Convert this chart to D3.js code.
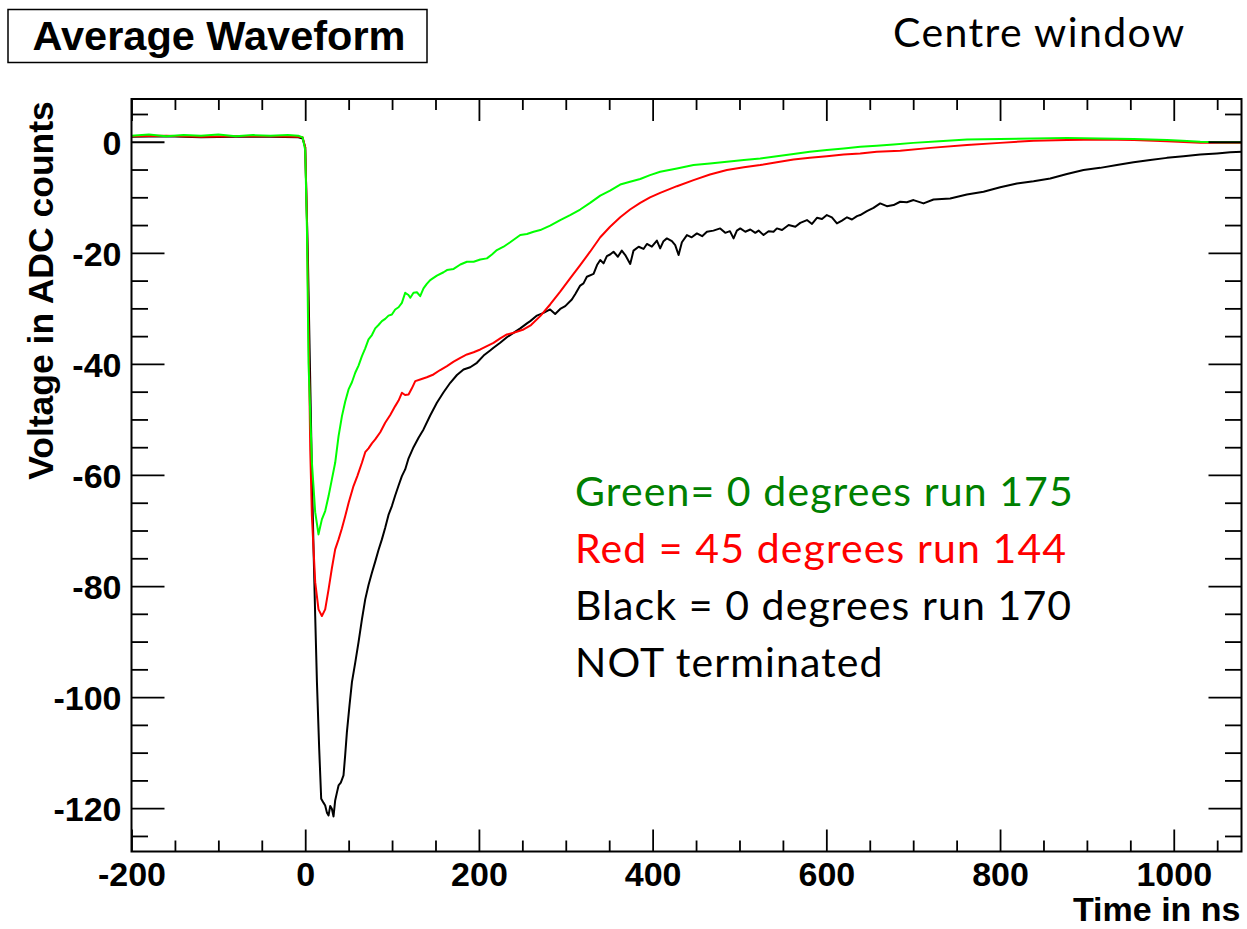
<!DOCTYPE html>
<html>
<head>
<meta charset="utf-8">
<script src="https://cdn.jsdelivr.net/npm/d3@7"></script>
<style>
  html, body { margin: 0; padding: 0; background: #fff; }
  svg { display: block; }
</style>
</head>
<body>
<svg id="chart" width="1247" height="929"></svg>
<script>
// ---------------- DATA ----------------
const xTicks = [-200, 0, 200, 400, 600, 800, 1000];
const yTicks = [0, -20, -40, -60, -80, -100, -120];
const xDomain = [-200, 1078];
const yDomain = [-127.8, 7.7];

const titleText = "Average Waveform";
const subtitleText = "Centre window";
const xLabel = "Time in ns";
const yLabel = "Voltage in ADC counts";
const legendLines = ["Green= 0 degrees run 175", "Red = 45 degrees run 144", "Black = 0 degrees run 170", "NOT terminated"];

const greenData = [[-200,1.1],[-180,1.3],[-160,1.0],[-140,1.2],[-120,1.1],[-100,1.3],[-80,1.0],[-60,1.2],[-40,1.1],[-20,1.2],[-8,1.1],[-3,0.8],[0,-1.5],[2,-15.9],[3.8,-39.8],[7.7,-57.7],[11.5,-66.7],[15.3,-70.7],[17,-69.5],[19.2,-68],[23,-66.5],[26.9,-63.8],[30.7,-60.8],[34.5,-57.8],[38.4,-53],[42.3,-49.4],[46,-46.8],[49.9,-44.6],[53.8,-43.3],[57.6,-41.6],[61.4,-40.3],[65.3,-38.6],[69.1,-37.2],[72.9,-35.6],[76.8,-34.8],[80.6,-33.6],[84.4,-33.0],[88.3,-32.3],[92.1,-31.9],[95.9,-31.3],[99.8,-31.1],[103.6,-30.2],[107.5,-29.8],[111.3,-29],[115.1,-27.2],[118.9,-27.6],[121,-28.1],[124.7,-27.2],[128.6,-27.1],[132.4,-27.8],[136.2,-26.4],[140,-25.6],[143.9,-24.9],[151.6,-24.1],[159.3,-23.5],[163.2,-23.1],[170.9,-22.9],[178.6,-22.1],[186.2,-21.6],[193.9,-21.6],[201.6,-21.2],[209.2,-21],[215,-20.3],[220.7,-19.5],[228.4,-18.9],[236,-18.1],[247.6,-16.8],[255.3,-16.6],[263,-16.2],[270.6,-15.9],[282,-15.1],[293.6,-14.1],[305,-13.2],[316.6,-12.2],[328,-11.0],[339.7,-9.7],[351,-8.8],[362.7,-7.7],[374,-7.2],[385.7,-6.7],[397,-6.0],[408.7,-5.4],[428,-4.8],[447.1,-4.2],[466,-3.9],[485.5,-3.6],[505,-3.3],[523.9,-3.0],[543,-2.6],[562.2,-2.2],[581,-1.8],[600.6,-1.5],[620,-1.2],[639,-0.9],[658,-0.7],[677.4,-0.5],[700,-0.2],[730,0.1],[761.9,0.4],[800,0.5],[838.7,0.6],[877,0.7],[915.4,0.6],[954,0.5],[992.2,0.3],[1010,0.2],[1030.5,0],[1055,-0.1],[1080,-0.1]];

const redData = [[-200,1.0],[-160,1.1],[-120,0.9],[-80,1.0],[-40,1.0],[-8,0.9],[-3,0.8],[0,-1.0],[2,-14],[4,-35],[5.8,-55.4],[7.7,-67.4],[11.5,-79.3],[15.3,-84.2],[19.2,-85.4],[23,-84.2],[26.9,-80.6],[30.7,-76.8],[34.5,-73.4],[38.4,-71.6],[42.3,-69.6],[46.1,-67.4],[50,-65.0],[55.6,-62],[60,-60.2],[65.3,-57.8],[69.1,-55.9],[72.9,-55.2],[76.8,-54.3],[80.6,-53.6],[86.4,-52.3],[92.1,-50.6],[97.9,-49.2],[103.6,-47.6],[107.5,-46.6],[111.3,-45.2],[115,-45.6],[119,-45.5],[122.8,-44.4],[126.7,-43.1],[132.4,-42.8],[140,-42.4],[147.7,-41.9],[155.4,-41.1],[163.2,-40.4],[170.9,-39.6],[178.6,-38.9],[186.2,-38.3],[193.9,-37.9],[201.6,-37.4],[209.2,-36.8],[216.8,-36.2],[224.5,-35.4],[232.2,-34.7],[240,-34.4],[251.4,-33.8],[260,-33.0],[270.6,-31.4],[282,-29.3],[293.6,-27.0],[305,-24.6],[316.6,-22.2],[328,-19.8],[339.7,-17.2],[351,-15.3],[362.7,-13.6],[374,-12.2],[385.7,-11.0],[397,-10.0],[408.7,-9.2],[428,-8.0],[447.1,-6.9],[466,-5.9],[485.5,-5.1],[505,-4.6],[523.9,-4.2],[543,-3.7],[562.2,-3.2],[581,-2.9],[600.6,-2.6],[620,-2.3],[639,-2.1],[658,-1.8],[685,-1.6],[720,-1.1],[761.9,-0.6],[800,-0.2],[838.6,0.2],[877,0.3],[915.4,0.4],[954,0.3],[992.2,0.1],[1030.5,-0.2],[1080,-0.2]];

const blackData = [[-200,0.9],[-160,1.0],[-120,0.8],[-80,0.9],[-40,0.9],[-8,0.8],[-3,0.6],[0,-1.0],[3,-20],[6,-45],[8,-62],[9.6,-73.4],[11.5,-85.4],[13.5,-97.3],[16.1,-109.3],[18.4,-118.3],[21,-119.0],[23,-119.5],[25,-120.8],[26.9,-121.3],[28.8,-119.6],[30.7,-120.1],[32.6,-121.5],[34.5,-118.6],[36.5,-117.2],[38.4,-115.9],[41,-115.4],[44.1,-114.1],[46,-110.5],[48,-106.3],[51,-101.5],[53.8,-97.3],[57.6,-93.8],[61.4,-90.1],[65.3,-86.0],[69.1,-82.4],[72.9,-79.8],[76.8,-77.6],[80.6,-75.6],[84.4,-73.5],[88.3,-71.6],[92.1,-69.5],[95.9,-67.2],[99.8,-65.6],[103.6,-63.7],[107.5,-61.9],[111.3,-60.2],[115.1,-59.0],[119,-57.0],[124.7,-55.0],[130.5,-53.3],[136.2,-51.8],[143.9,-49.3],[151.6,-47],[159.3,-45.1],[167,-43.4],[174.7,-42.0],[182.3,-41],[190,-40.6],[197.7,-39.8],[205.4,-38.5],[212.9,-37.6],[216.8,-37.1],[224.5,-36.2],[232.2,-35.2],[239.8,-34.4],[247.6,-33.6],[255.3,-32.7],[259.1,-32.3],[266.8,-31.3],[274.4,-30.8],[282,-30.2],[287.8,-31.0],[293.6,-30.1],[299.4,-29.6],[307,-28.4],[311,-27.4],[316.6,-25.9],[320.4,-25.5],[324.3,-24.3],[332,-23.8],[336,-22.2],[339.7,-21.3],[343.5,-21.9],[347.3,-20.6],[351,-20.3],[355,-19.8],[360,-20.7],[364.5,-19.6],[368.5,-20.4],[374.2,-22.0],[378,-19.6],[383.9,-18.9],[389.5,-19.3],[393.4,-18.4],[399.1,-18.9],[404.9,-17.8],[408.7,-19.2],[412.5,-17.9],[416.4,-17.4],[422.2,-17.9],[426,-18.6],[429.9,-20.4],[433.7,-18.1],[439.5,-16.8],[445,-17.2],[451,-16.5],[457,-17.0],[462.5,-16.2],[470,-16.0],[477.8,-15.6],[483.6,-16.4],[489,-16.1],[493.2,-17.4],[497,-16.0],[500.9,-15.6],[506.7,-16.2],[512.5,-15.8],[518.2,-16.4],[522,-16.0],[527.7,-16.8],[533.5,-16.1],[539.2,-16.2],[543.1,-15.6],[549,-15.9],[556.6,-15.0],[564.3,-15.3],[570,-14.6],[577.7,-14.1],[583.5,-14.8],[589.2,-13.7],[595,-13.9],[600.6,-13.2],[606.4,-13.6],[612.2,-14.7],[618,-14.2],[623.8,-13.6],[629.5,-14.0],[635.3,-13.4],[639,-13.2],[646.7,-12.5],[654.3,-11.9],[662,-11.1],[669.7,-11.6],[677.4,-11.4],[685,-10.8],[692.7,-10.9],[700.4,-10.5],[711.9,-11.1],[723.4,-10.4],[742.6,-10.2],[761.8,-9.5],[781,-9.0],[800.2,-8.2],[819.4,-7.5],[838.6,-7.1],[857.8,-6.6],[877,-5.8],[896.1,-5.1],[915.3,-4.7],[934.5,-4.2],[953.7,-3.7],[972.9,-3.3],[992.1,-2.9],[1011.3,-2.6],[1030.5,-2.3],[1049.7,-2.1],[1065,-1.9],[1080,-1.8]];

const seriesList = [
  {name: "black", data: blackData, color: "#000000"},
  {name: "red", data: redData, color: "#ff0000"},
  {name: "green", data: greenData, color: "#00ff00"}
];
const legendColors = ["#008000", "#ff0000", "#000000", "#000000"];

// ---------------- LAYOUT ----------------
const svg = d3.select("#chart");
const plot = {left: 131.5, right: 1241.5, top: 99, bottom: 851.5};

const x = d3.scaleLinear().domain(xDomain).range([plot.left, plot.right]);
const y = d3.scaleLinear().domain(yDomain).range([plot.bottom, plot.top]);

svg.append("defs").append("clipPath").attr("id", "clip")
  .append("rect").attr("x", plot.left).attr("y", plot.top)
  .attr("width", plot.right - plot.left).attr("height", plot.bottom - plot.top);

const line = d3.line().x(d => x(d[0])).y(d => y(d[1]));
const g = svg.append("g").attr("clip-path", "url(#clip)");
seriesList.forEach(s => {
  g.append("path").datum(s.data)
    .attr("fill", "none").attr("stroke", s.color)
    .attr("stroke-width", 2).attr("stroke-linejoin", "round")
    .attr("d", line);
});

const xMinor = d3.range(-200, 1080, 50).filter(v => v % 200 !== 0);
const yMinor = d3.range(-125, 8, 5).filter(v => v % 20 !== 0);
const tickFont = "'Liberation Sans', Arial, Helvetica, sans-serif";
const fmt = d => String(d);   // plain hyphen-minus as in the reference

// bottom
const gxb = svg.append("g").attr("transform", `translate(0,${plot.bottom})`)
  .call(d3.axisBottom(x).tickValues(xTicks).tickSizeInner(-22).tickSizeOuter(0).tickFormat(fmt));
svg.append("g").attr("transform", `translate(0,${plot.bottom})`)
  .call(d3.axisBottom(x).tickValues(xMinor).tickSizeInner(-11).tickSizeOuter(0).tickFormat(""));
// top
svg.append("g").attr("transform", `translate(0,${plot.top})`)
  .call(d3.axisTop(x).tickValues(xTicks).tickSizeInner(-22).tickSizeOuter(0).tickFormat(""));
svg.append("g").attr("transform", `translate(0,${plot.top})`)
  .call(d3.axisTop(x).tickValues(xMinor).tickSizeInner(-11).tickSizeOuter(0).tickFormat(""));
// left
const gyl = svg.append("g").attr("transform", `translate(${plot.left},0)`)
  .call(d3.axisLeft(y).tickValues(yTicks).tickSizeInner(-33).tickSizeOuter(0).tickFormat(fmt));
svg.append("g").attr("transform", `translate(${plot.left},0)`)
  .call(d3.axisLeft(y).tickValues(yMinor).tickSizeInner(-16.5).tickSizeOuter(0).tickFormat(""));
// right
svg.append("g").attr("transform", `translate(${plot.right},0)`)
  .call(d3.axisRight(y).tickValues(yTicks).tickSizeInner(-33).tickSizeOuter(0).tickFormat(""));
svg.append("g").attr("transform", `translate(${plot.right},0)`)
  .call(d3.axisRight(y).tickValues(yMinor).tickSizeInner(-16.5).tickSizeOuter(0).tickFormat(""));

svg.selectAll(".domain").remove();
svg.selectAll(".tick line").attr("stroke", "#000").attr("stroke-width", 1.8);

gxb.selectAll(".tick text").attr("font-family", tickFont).attr("font-weight", "bold")
  .attr("font-size", 34).attr("fill", "#000").attr("dy", null).attr("y", 34.5);
gyl.selectAll(".tick text").attr("font-family", tickFont).attr("font-weight", "bold")
  .attr("font-size", 34).attr("fill", "#000").attr("x", -10).attr("dy", "0.36em");

// frame
svg.append("rect").attr("x", plot.left).attr("y", plot.top)
  .attr("width", plot.right - plot.left).attr("height", plot.bottom - plot.top)
  .attr("fill", "none").attr("stroke", "#000").attr("stroke-width", 2);

// axis titles
svg.append("text").attr("x", plot.right - 1).attr("y", 921)
  .attr("text-anchor", "end").attr("font-family", tickFont).attr("font-weight", "bold")
  .attr("font-size", 34).text(xLabel);
svg.append("text").attr("transform", `translate(53,${(98 + 483) / 2}) rotate(-90)`)
  .attr("text-anchor", "middle").attr("font-family", tickFont).attr("font-weight", "bold")
  .attr("font-size", 35.5).text(yLabel);

// title box
svg.append("rect").attr("x", 8).attr("y", 9.5).attr("width", 419).attr("height", 53)
  .attr("fill", "#fff").attr("stroke", "#000").attr("stroke-width", 1.5);
svg.append("text").attr("x", 219).attr("y", 50).attr("text-anchor", "middle")
  .attr("font-family", tickFont).attr("font-weight", "bold").attr("font-size", 41.5).text(titleText);

// subtitle
const calibriLike = "Lato, 'Open Sans', 'Noto Sans', sans-serif";
svg.append("text").attr("x", 893).attr("y", 47).attr("font-family", calibriLike)
  .attr("font-size", 41).attr("letter-spacing", 1.4).attr("fill", "#000").text(subtitleText);

// legend text
legendLines.forEach((t, i) => {
  svg.append("text").attr("x", 575).attr("y", 506 + i * 57)
    .attr("font-family", calibriLike).attr("font-size", 41).attr("letter-spacing", 1.1)
    .attr("fill", legendColors[i]).text(t);
});
</script>
</body>
</html>
